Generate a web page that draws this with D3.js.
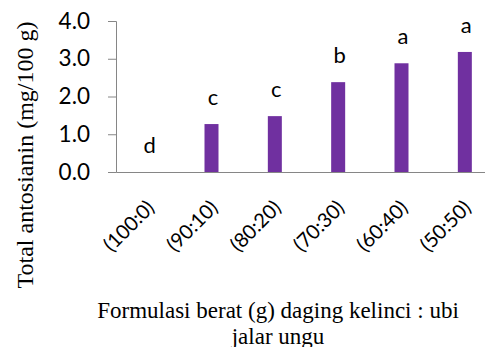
<!DOCTYPE html>
<html>
<head>
<meta charset="utf-8">
<script src="https://cdn.jsdelivr.net/npm/d3@7"></script>
<style>
  body { margin: 0; background: #fff; }
</style>
</head>
<body>
<div id="chart"></div>
<script>
var categories = ["(100:0)", "(90:10)", "(80:20)", "(70:30)", "(60:40)", "(50:50)"];
var values = [0, 1.27, 1.48, 2.38, 2.88, 3.18];
var letters = ["d", "c", "c", "b", "a", "a"];
var yTicks = [0, 1, 2, 3, 4];

var width = 485,
    height = 347;

var svg = d3.select("#chart")
  .append("svg")
    .attr("width", width)
    .attr("height", height);

var x = d3.scaleBand()
    .domain(categories)
    .range([116, 496]);

var y = d3.scaleLinear()
    .domain([0, 4])
    .range([172, 21]);

var axisColor = "#868686";
var sans = "Lato, 'Open Sans', sans-serif";
var serif = "'Liberation Serif', 'Times New Roman', serif";

// y axis
var yAxis = svg.append("g")
    .attr("transform", "translate(116,0)")
    .call(d3.axisLeft(y).tickValues(yTicks).tickSize(8).tickFormat(d3.format(".1f")));
yAxis.select(".domain").attr("stroke", axisColor);
yAxis.selectAll(".tick line").attr("stroke", axisColor);
yAxis.selectAll(".tick text")
    .attr("x", -26)
    .style("font-family", sans)
    .style("font-size", "22.5px")
    .attr("fill", "#000");

// bars
var barW = 14;
svg.selectAll("rect.bar")
  .data(values)
  .enter()
  .append("rect")
    .attr("class", "bar")
    .attr("x", function(d, i){ return x(categories[i]) + x.bandwidth() / 2 - barW / 2 + 0.5; })
    .attr("y", function(d){ return y(d); })
    .attr("width", barW)
    .attr("height", function(d){ return y(0) - y(d); })
    .attr("fill", "#7030A0");

// x axis
var xAxis = svg.append("g")
    .attr("transform", "translate(0,172)")
    .call(d3.axisBottom(x).tickSize(0).tickSizeOuter(0));
xAxis.select(".domain").attr("stroke", axisColor);
xAxis.selectAll(".tick text")
    .attr("transform", "translate(3,32) rotate(-45)")
    .attr("x", 0)
    .attr("y", 0)
    .attr("dy", "0.35em")
    .style("text-anchor", "end")
    .style("font-family", sans)
    .style("font-size", "20px")
    .attr("fill", "#000");

// significance letters
svg.selectAll("text.letter")
  .data(values)
  .enter()
  .append("text")
    .attr("class", "letter")
    .attr("x", function(d, i){ return x(categories[i]) + x.bandwidth() / 2 + 2; })
    .attr("y", function(d){ return y(d) - 19; })
    .attr("text-anchor", "middle")
    .style("font-family", sans)
    .style("font-size", "22px")
    .text(function(d, i){ return letters[i]; });

// axis titles
svg.append("text")
    .attr("transform", "translate(33,155) rotate(-90)")
    .attr("text-anchor", "middle")
    .style("font-family", serif)
    .style("font-size", "24px")
    .text("Total antosianin (mg/100 g)");

svg.append("text")
    .attr("x", 278)
    .attr("y", 318)
    .attr("text-anchor", "middle")
    .style("font-family", serif)
    .style("font-size", "23px")
    .text("Formulasi berat (g) daging kelinci : ubi");

svg.append("text")
    .attr("x", 278)
    .attr("y", 343.5)
    .attr("text-anchor", "middle")
    .style("font-family", serif)
    .style("font-size", "23px")
    .text("jalar ungu");
</script>
</body>
</html>
